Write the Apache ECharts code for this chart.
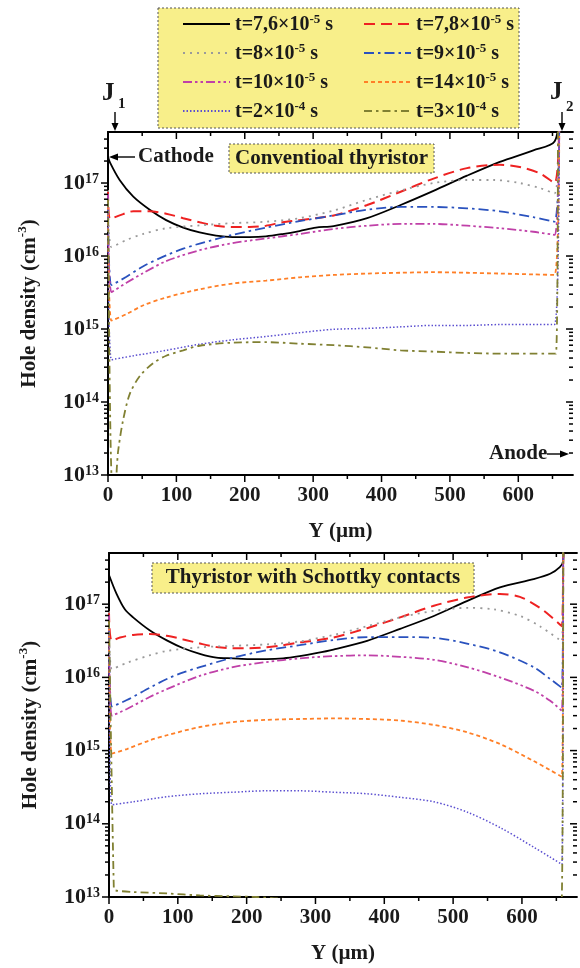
<!DOCTYPE html>
<html><head><meta charset="utf-8">
<script src="https://cdn.jsdelivr.net/npm/echarts@6/dist/echarts.min.js"></script>
<style>html,body{margin:0;padding:0;background:#fff}#c{width:580px;height:968px}</style>
</head><body><div id="c"></div>
<script>
// ---------- DATA ----------
const seriesNames = ['t=7,6×10-5 s','t=7,8×10-5 s','t=8×10-5 s','t=9×10-5 s','t=10×10-5 s','t=14×10-5 s','t=2×10-4 s','t=3×10-4 s'];

// Conventional thyristor (top panel): [Y (µm), hole density (cm^-3)]
const conv_t76 = [[0,2.3e17],[3,1.9e17],[17,1.1e17],[37,6.5e16],[61,4.3e16],[85,3.1e16],[110,2.45e16],[134,2.1e16],[158,1.9e16],[182,1.82e16],[207,1.82e16],[231,1.86e16],[255,2.0e16],[280,2.2e16],[304,2.45e16],[330,2.57e16],[379,3.3e16],[428,5.0e16],[476,7.8e16],[525,1.26e17],[573,1.95e17],[622,2.8e17],[653,3.7e17],[660,1e18]];
const conv_t78 = [[0,8e16],[3,3.2e16],[17,3.6e16],[37,4.1e16],[61,4.1e16],[85,3.8e16],[110,3.3e16],[134,2.9e16],[158,2.6e16],[182,2.5e16],[207,2.5e16],[231,2.6e16],[255,2.9e16],[280,3.1e16],[330,3.6e16],[379,5.0e16],[428,7.6e16],[476,1.15e17],[525,1.6e17],[573,1.78e17],[602,1.66e17],[632,1.35e17],[653,1.0e17],[660,1e18]];
const conv_t8  = [[0,8e16],[5,1.32e16],[27,1.66e16],[51,2.0e16],[85,2.4e16],[134,2.63e16],[182,2.82e16],[231,2.95e16],[280,3.3e16],[330,4.2e16],[379,5.9e16],[428,7.9e16],[476,1.0e17],[525,1.1e17],[564,1.1e17],[602,1.0e17],[632,8.5e16],[653,7.2e16],[660,1e18]];
const conv_t9  = [[0,7e16],[5,4.0e15],[27,5.2e15],[51,7.2e15],[85,1.02e16],[110,1.26e16],[134,1.48e16],[182,1.95e16],[231,2.45e16],[280,3.0e16],[330,3.6e16],[379,4.3e16],[428,4.7e16],[476,4.7e16],[525,4.5e16],[573,4.1e16],[622,3.4e16],[653,2.95e16],[660,1e18]];
const conv_t10 = [[0,7e16],[5,3.2e15],[27,4.3e15],[51,5.8e15],[85,8.5e15],[134,1.2e16],[182,1.5e16],[231,1.74e16],[280,2.0e16],[330,2.35e16],[379,2.6e16],[428,2.75e16],[476,2.75e16],[525,2.6e16],[573,2.4e16],[622,2.15e16],[653,1.95e16],[660,1e18]];
const conv_t14 = [[0,6e16],[5,1.3e15],[27,1.6e15],[51,2.1e15],[85,2.7e15],[134,3.5e15],[182,4.2e15],[231,4.6e15],[280,5.1e15],[330,5.5e15],[379,5.75e15],[428,5.9e15],[476,6.0e15],[525,5.9e15],[573,5.75e15],[622,5.6e15],[653,5.5e15],[660,1e18]];
const conv_t20 = [[0,6e16],[5,3.8e14],[37,4.3e14],[85,5.1e14],[134,6.2e14],[182,7.1e14],[231,7.9e14],[280,8.9e14],[330,9.9e14],[379,1.02e15],[428,1.07e15],[476,1.12e15],[525,1.12e15],[573,1.15e15],[653,1.15e15],[660,1e18]];
const conv_t30 = [[0,6e16],[6,8e12],[11,8e12],[13,1.3e13],[15,2.2e13],[22,5.6e13],[32,1.3e14],[47,2.3e14],[66,3.4e14],[85,4.3e14],[110,5.1e14],[134,5.9e14],[182,6.5e14],[231,6.6e14],[280,6.3e14],[330,6.0e14],[379,5.6e14],[428,5.1e14],[476,4.9e14],[525,4.7e14],[573,4.6e14],[622,4.6e14],[655,4.6e14],[658,1e18]];

// Thyristor with Schottky contacts (bottom panel)
const sch_t76 = [[0,2.5e17],[11,1.38e17],[23,8.5e16],[35,6.6e16],[59,4.4e16],[84,3.2e16],[108,2.5e16],[132,2.1e16],[156,1.86e16],[180,1.82e16],[204,1.78e16],[229,1.78e16],[253,1.82e16],[277,1.95e16],[301,2.14e16],[326,2.4e16],[375,3.16e16],[423,4.6e16],[472,6.9e16],[520,1.1e17],[568,1.7e17],[617,2.2e17],[641,2.6e17],[655,3.2e17],[660,3.9e17],[661,1e18]];
const sch_t78 = [[0,8e16],[4,3.16e16],[16,3.5e16],[35,3.8e16],[59,3.9e16],[84,3.7e16],[108,3.3e16],[132,2.9e16],[156,2.6e16],[180,2.5e16],[204,2.5e16],[229,2.57e16],[253,2.75e16],[277,3.0e16],[326,3.5e16],[375,4.7e16],[423,6.6e16],[472,9.5e16],[520,1.23e17],[568,1.38e17],[597,1.26e17],[626,8.9e16],[646,6.3e16],[658,5.0e16],[660,1e18]];
const sch_t8  = [[0,8e16],[4,1.29e16],[26,1.58e16],[59,2.0e16],[84,2.3e16],[132,2.57e16],[180,2.7e16],[229,2.82e16],[277,3.1e16],[326,3.8e16],[375,5.0e16],[423,6.6e16],[472,8.1e16],[520,8.9e16],[559,8.5e16],[597,6.9e16],[626,5.0e16],[658,3.1e16],[660,1e18]];
const sch_t9  = [[0,7e16],[4,4.0e15],[26,4.9e15],[59,7.2e15],[84,9.5e15],[108,1.17e16],[132,1.38e16],[180,1.86e16],[229,2.34e16],[277,2.75e16],[326,3.24e16],[375,3.55e16],[423,3.55e16],[472,3.47e16],[520,2.9e16],[568,2.2e16],[617,1.38e16],[641,9.5e15],[658,7.2e15],[660,1e18]];
const sch_t10 = [[0,7e16],[4,3.0e15],[26,3.7e15],[59,5.4e15],[84,6.9e15],[132,1.05e16],[180,1.38e16],[229,1.62e16],[277,1.82e16],[326,1.95e16],[375,2.0e16],[423,1.91e16],[472,1.74e16],[520,1.38e16],[568,1.0e16],[617,6.6e15],[641,4.8e15],[658,3.5e15],[660,1e18]];
const sch_t14 = [[0,6e16],[4,9.1e14],[26,1.05e15],[59,1.38e15],[84,1.62e15],[132,2.1e15],[180,2.45e15],[229,2.63e15],[277,2.7e15],[326,2.75e15],[375,2.7e15],[423,2.57e15],[472,2.24e15],[520,1.78e15],[568,1.23e15],[617,7.2e14],[641,5.4e14],[658,4.4e14],[660,1e18]];
const sch_t20 = [[0,6e16],[4,1.82e14],[35,2.0e14],[84,2.34e14],[132,2.57e14],[180,2.7e14],[229,2.82e14],[277,2.82e14],[326,2.7e14],[375,2.57e14],[423,2.3e14],[472,2.0e14],[520,1.45e14],[568,8.9e13],[617,4.8e13],[641,3.5e13],[658,2.8e13],[660,1e18]];
const sch_t30 = [[0,6e16],[7,1.3e13],[9,1.23e13],[35,1.17e13],[84,1.12e13],[132,1.05e13],[180,1.02e13],[214,1.0e13],[240,9.6e12],[300,9e12],[400,8e12],[500,7e12],[600,6.5e12],[657,6e12],[660,1e18]];

const convData = [conv_t76, conv_t78, conv_t8, conv_t9, conv_t10, conv_t14, conv_t20, conv_t30];
const schData  = [sch_t76, sch_t78, sch_t8, sch_t9, sch_t10, sch_t14, sch_t20, sch_t30];

// Axis ticks
const xMajorTicks = [0,100,200,300,400,500,600];
const xMinorTicks = [50,150,250,350,450,550,650];
const yDecades = [1e13,1e14,1e15,1e16,1e17];
const yMinorTicks = [2e13,3e13,4e13,5e13,6e13,7e13,8e13,9e13,2e14,3e14,4e14,5e14,6e14,7e14,8e14,9e14,2e15,3e15,4e15,5e15,6e15,7e15,8e15,9e15,2e16,3e16,4e16,5e16,6e16,7e16,8e16,9e16,2e17,3e17,4e17];
const xMin = 0, xMax = 680, yMin = 1e13, yMax = 5e17;

// ---------- STYLE ----------
const FONT = 'Liberation Serif';
const TXT = '#1a1a1a';
const colors = ['#000000','#ee2222','#9a9a9a','#2a52be','#c040a8','#ff7f27','#5b4fd0','#808032'];
const dashes = ['solid',[11,6],[2,5],[10,4,2.5,4],[9,3,2.5,3,2.5,3],[4,3],[1.5,2],[8,4,2.5,4]];
const widths = [1.8,2,1.8,1.8,1.8,1.8,1.5,1.8];

const grids = [
  {left:108, top:132, width:465, height:343},
  {left:109, top:553, width:468, height:344}
];

const axisLineStyle = {color:'#000', width:1.8};
const bRich = {fontFamily:FONT, fontWeight:'bold', color:TXT};

function xAxesFor(g){
  const base = {type:'value', gridIndex:g, min:xMin, max:xMax, splitLine:{show:false}, axisTick:{show:false}};
  return [
    Object.assign({}, base, {position:'bottom', axisLine:{show:true, onZero:false, lineStyle:axisLineStyle},
      axisLabel:{show:true, customValues:xMajorTicks, margin:10, fontFamily:FONT, fontWeight:'bold', fontSize:21, color:TXT},
      name:'Y (µm)', nameLocation:'middle', nameGap:46, nameTextStyle:{fontFamily:FONT, fontWeight:'bold', fontSize:21, color:TXT}}),
    Object.assign({}, base, {position:'top', axisLine:{show:true, onZero:false, lineStyle:axisLineStyle}, axisLabel:{show:false}})
  ];
}
function yAxesFor(g){
  const base = {type:'log', logBase:10, gridIndex:g, min:yMin, max:yMax, splitLine:{show:false}, axisTick:{show:false}, minorTick:{show:false}};
  return [
    Object.assign({}, base, {position:'left', axisLine:{show:true, lineStyle:axisLineStyle},
      axisLabel:{show:true, customValues:yDecades, margin:9,
        formatter:function(v){return '{b|10}{s|' + Math.round(Math.log10(v)) + '}';},
        rich:{b:Object.assign({fontSize:22, lineHeight:22, verticalAlign:'bottom'}, bRich),
              s:Object.assign({fontSize:14, lineHeight:14, verticalAlign:'top'}, bRich)}},
      name:'{b|Hole density (cm}{s|-3}{b|)}', nameLocation:'middle', nameGap:68, nameRotate:90,
      nameTextStyle:{rich:{b:Object.assign({fontSize:21, lineHeight:24, verticalAlign:'bottom'}, bRich),
                           s:Object.assign({fontSize:13, lineHeight:13, verticalAlign:'top'}, bRich)}}}),
    Object.assign({}, base, {position:'right', axisLine:{show:true, lineStyle:axisLineStyle}, axisLabel:{show:false}})
  ];
}

const series = [];
[convData, schData].forEach(function(set, g){
  set.forEach(function(d, i){
    series.push({
      type:'line', name:seriesNames[i], data:d, xAxisIndex:g*2, yAxisIndex:g*2,
      symbol:'none', smooth:0.3, clip:true,
      lineStyle:{color:colors[i], width:widths[i], type:dashes[i], cap:'butt'},
      itemStyle:{color:colors[i]}
    });
  });
});

function legendFmt(name){
  const m = name.match(/^(.*×10)(-\d)( s)$/);
  return '{b|' + m[1] + '}{s|' + m[2] + '}{b|' + m[3] + '}';
}
const legendRich = {b:Object.assign({fontSize:20, lineHeight:22, verticalAlign:'bottom'}, bRich),
                    s:Object.assign({fontSize:13, lineHeight:13, verticalAlign:'top'}, bRich)};
function legendCol(left, idx){
  return {left:left, top:8, z:10, orient:'vertical', itemWidth:47, itemHeight:14, itemGap:7,
    selectedMode:false, itemStyle:{opacity:0},
    data:idx.map(function(i){return seriesNames[i];}),
    formatter:legendFmt, textStyle:{rich:legendRich}};
}

const boxFill = '#f8ef8a';
const boxStroke = {stroke:'#555', lineWidth:1, lineDash:[2,2]};
function txt(x, y, t, size, align){
  return {type:'text', x:x, y:y, z:100, style:{text:t, fill:TXT, font:'bold ' + size + 'px "' + FONT + '"', textAlign:align||'left', textVerticalAlign:'middle'}};
}
function arrowDown(x, y0, y1){
  return [
    {type:'line', z:100, shape:{x1:x, y1:y0, x2:x, y2:y1-6}, style:{stroke:'#000', lineWidth:1.4}},
    {type:'polygon', z:100, shape:{points:[[x-3.5,y1-8],[x+3.5,y1-8],[x,y1]]}, style:{fill:'#000'}}
  ];
}

// Tick marks: same linear (x) / log10 (y) mapping as the axes, over each grid box
const tickEls = [];
const tickStyle = {stroke:'#000', lineWidth:1.5};
grids.forEach(function(G){
  const la = Math.log10(yMin), lb = Math.log10(yMax);
  function px(v){ return G.left + (v - xMin) / (xMax - xMin) * G.width; }
  function py(v){ return G.top + G.height - (Math.log10(v) - la) / (lb - la) * G.height; }
  const xL = G.left, xR = G.left + G.width, yB = G.top + G.height, yT = G.top;
  function xt(v, len){
    const x = px(v);
    tickEls.push({type:'line', z:40, silent:true, shape:{x1:x, y1:yB, x2:x, y2:yB+len}, style:tickStyle});
    tickEls.push({type:'line', z:40, silent:true, shape:{x1:x, y1:yT, x2:x, y2:yT+len}, style:tickStyle});
  }
  function yt(v, len){
    const y = py(v);
    tickEls.push({type:'line', z:40, silent:true, shape:{x1:xL-len, y1:y, x2:xL, y2:y}, style:tickStyle});
    tickEls.push({type:'line', z:40, silent:true, shape:{x1:xR-len, y1:y, x2:xR, y2:y}, style:tickStyle});
  }
  xMajorTicks.forEach(function(v){ xt(v, 7); });
  xMinorTicks.forEach(function(v){ xt(v, 4); });
  yDecades.forEach(function(v){ yt(v, 7); });
  yMinorTicks.forEach(function(v){ yt(v, 4); });
});

const graphic = [
  {type:'rect', z:1, shape:{x:158, y:8, width:361, height:120}, style:Object.assign({fill:boxFill}, boxStroke)},
  {type:'rect', z:30, shape:{x:229, y:144, width:205, height:29}, style:Object.assign({fill:boxFill}, boxStroke)},
  txt(331.5, 158.5, 'Conventioal thyristor', 21, 'center'),
  {type:'rect', z:30, shape:{x:152, y:563, width:322, height:30}, style:Object.assign({fill:boxFill}, boxStroke)},
  txt(313, 578, 'Thyristor with Schottky contacts', 21, 'center'),
  txt(102, 94, 'J', 25), txt(118, 104, '1', 15),
  txt(550, 93, 'J', 25), txt(566, 107, '2', 15),
  txt(138, 157, 'Cathode', 21),
  {type:'line', z:100, shape:{x1:116, y1:157, x2:135, y2:157}, style:{stroke:'#000', lineWidth:1.4}},
  {type:'polygon', z:100, shape:{points:[[109,157],[118,153.5],[118,160.5]]}, style:{fill:'#000'}},
  txt(489, 454, 'Anode', 21),
  {type:'line', z:100, shape:{x1:547, y1:454, x2:562, y2:454}, style:{stroke:'#000', lineWidth:1.4}},
  {type:'polygon', z:100, shape:{points:[[569,454],[560,450.5],[560,457.5]]}, style:{fill:'#000'}}
].concat(arrowDown(115, 112, 131), arrowDown(562, 112, 131), tickEls);

const option = {
  animation:false,
  backgroundColor:'#fff',
  grid:grids,
  xAxis:xAxesFor(0).concat(xAxesFor(1)),
  yAxis:yAxesFor(0).concat(yAxesFor(1)),
  legend:[legendCol(177, [0,2,4,6]), legendCol(358, [1,3,5,7])],
  series:series,
  graphic:graphic
};
const chart = echarts.init(document.getElementById('c'), null, {renderer:'canvas'});
chart.setOption(option);
</script>
</body></html>
